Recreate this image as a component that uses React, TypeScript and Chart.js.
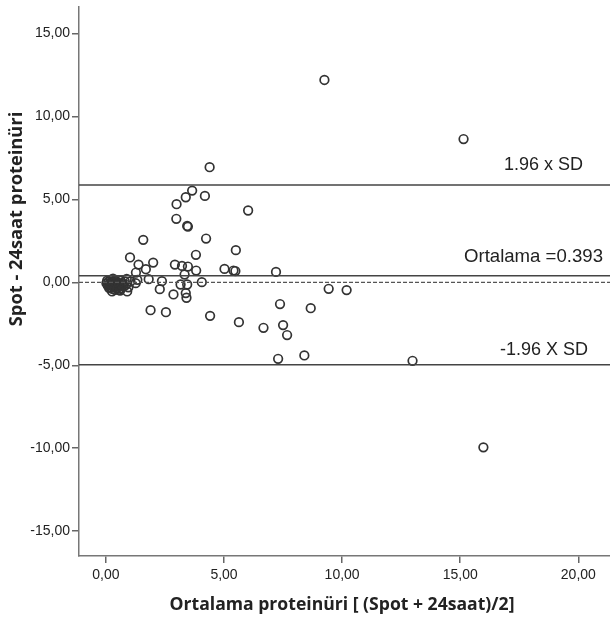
import React, { useEffect, useRef } from "react";
import { Chart, registerables } from "chart.js";

Chart.register(...registerables);

// Bland-Altman data: mean of methods (x) and difference (y)
const meanValues: number[] = [
  9.25, 15.14, 12.98, 15.98, 4.39, 3.65, 3.38, 4.19, 2.99, 6.02,
  2.98, 3.44, 3.47, 4.24, 1.58, 5.5, 3.81, 1.02, 1.38, 2.0,
  2.92, 3.22, 3.47, 3.82, 1.69, 1.27, 5.02, 5.4, 5.48, 7.2,
  3.33, 1.81, 2.37, 4.06, 3.16, 3.44, 2.28, 2.86, 3.38, 3.41,
  0.9, 1.89, 2.54, 4.41, 5.63, 6.67, 7.37, 7.5, 7.67, 7.29,
  8.4, 8.67, 9.43, 10.19,
  0.02, 0.05, 0.08, 0.12, 0.15, 0.18, 0.2, 0.25, 0.28, 0.3,
  0.33, 0.38, 0.4, 0.42, 0.47, 0.5, 0.55, 0.58, 0.62, 0.65,
  0.7, 0.75, 0.8, 0.85, 0.88, 1.04, 1.33, 1.26, 0.95, 0.3,
  0.1, 0.22, 0.35, 0.45, 0.52, 0.6, 0.68, 0.36, 0.26, 0.14,
];
const diffValues: number[] = [
  12.2, 8.64, -4.73, -9.95, 6.94, 5.53, 5.13, 5.21, 4.71, 4.33,
  3.83, 3.4, 3.36, 2.64, 2.56, 1.94, 1.66, 1.5, 1.07, 1.19,
  1.07, 0.99, 0.95, 0.71, 0.79, 0.59, 0.81, 0.71, 0.68, 0.63,
  0.47, 0.19, 0.07, 0.01, -0.13, -0.13, -0.41, -0.73, -0.65, -0.93,
  -0.55, -1.68, -1.8, -2.02, -2.4, -2.74, -1.31, -2.58, -3.18, -4.61,
  -4.41, -1.56, -0.39, -0.47,
  -0.05, 0.1, -0.2, 0.05, -0.1, -0.3, 0.15, -0.05, -0.4, 0.05,
  -0.2, -0.45, 0.1, -0.15, -0.35, 0.0, -0.45, -0.2, 0.1, -0.35,
  -0.05, -0.25, 0.05, -0.15, 0.2, 0.05, 0.15, -0.05, -0.3, 0.22,
  -0.15, -0.1, -0.3, -0.05, -0.25, -0.5, -0.15, 0.0, -0.55, -0.35,
];

const meanDiff = 0.393;
const upperLimit = 5.87;
const lowerLimit = -4.97;
const zeroLine = 0;

const xMin = -1.14;
const xMax = 21.34;
const yMin = -16.5;
const yMax = 16.6;
const tickStep = 5;

const xTitle = "Ortalama proteinüri [ (Spot + 24saat)/2]";
const yTitle = "Spot - 24saat proteinüri";
const upperLabel = "1.96 x SD";
const meanLabel = "Ortalama =0.393";
const lowerLabel = "-1.96 X SD";

const fmt = (v: number) => v.toFixed(2).replace(".", ",");

const textPlugin = {
  id: "textPlugin",
  afterDraw(chart: any) {
    const { ctx, chartArea, scales } = chart;
    const y = scales.y;
    ctx.save();
    ctx.fillStyle = "#222";
    // line labels
    ctx.font = "18px 'Liberation Sans', Arial, sans-serif";
    ctx.textAlign = "right";
    ctx.textBaseline = "middle";
    ctx.fillText(upperLabel, chartArea.right - 27, y.getPixelForValue(upperLimit) - 20);
    ctx.font = "18.6px 'Liberation Sans', Arial, sans-serif";
    ctx.fillText(meanLabel, chartArea.right - 7, y.getPixelForValue(meanDiff) - 19);
    ctx.font = "18px 'Liberation Sans', Arial, sans-serif";
    ctx.fillText(lowerLabel, chartArea.right - 22, y.getPixelForValue(lowerLimit) - 15);
    // axis titles
    ctx.font = "bold 17.6px 'Open Sans', sans-serif";
    ctx.textAlign = "center";
    ctx.fillText(xTitle, 342, 605);
    ctx.translate(17, 219);
    ctx.rotate(-Math.PI / 2);
    ctx.font = "bold 18.3px 'Open Sans', sans-serif";
    ctx.fillText(yTitle, 0, 0);
    ctx.restore();
  },
};

export default function App() {
  const ref = useRef<HTMLCanvasElement | null>(null);
  useEffect(() => {
    if (!ref.current) return;
    const points = meanValues.map((x, i) => ({ x, y: diffValues[i] }));
    const hline = (v: number) => [
      { x: xMin, y: v },
      { x: xMax, y: v },
    ];
    const tickFont = { family: "'Liberation Sans', Arial, sans-serif", size: 14 };
    const chart = new Chart(ref.current, {
      type: "scatter",
      data: {
        datasets: [
          {
            type: "line",
            data: hline(upperLimit),
            borderColor: "#444",
            borderWidth: 1.5,
            pointRadius: 0,
          },
          {
            type: "line",
            data: hline(meanDiff),
            borderColor: "#444",
            borderWidth: 1.5,
            pointRadius: 0,
          },
          {
            type: "line",
            data: hline(lowerLimit),
            borderColor: "#444",
            borderWidth: 1.5,
            pointRadius: 0,
          },
          {
            type: "line",
            data: hline(zeroLine),
            borderColor: "#555",
            borderWidth: 1.3,
            borderDash: [4, 2],
            pointRadius: 0,
          },
          {
            type: "scatter",
            data: points,
            pointStyle: "circle",
            pointRadius: 4.3,
            borderColor: "#333",
            borderWidth: 1.7,
            backgroundColor: "rgba(0,0,0,0)",
          },
        ] as any,
      },
      options: {
        responsive: false,
        animation: false,
        layout: { autoPadding: false, padding: { top: 7, left: 0, right: 0, bottom: 0 } },
        plugins: {
          legend: { display: false },
          tooltip: { enabled: false },
          title: { display: false },
        },
        scales: {
          x: {
            type: "linear",
            min: xMin,
            max: xMax,
            afterFit: (s: any) => {
              s.height = 61;
              s.paddingLeft = 0;
              s.paddingRight = 0;
            },
            ticks: {
              stepSize: tickStep,
              includeBounds: false,
              font: tickFont,
              color: "#222",
              padding: 4,
              maxRotation: 0,
              callback: (v: any) => fmt(Number(v)),
            },
            grid: {
              drawOnChartArea: false,
              drawTicks: true,
              tickLength: 7,
              color: "#666",
              lineWidth: 1.5,
            },
            border: { display: true, color: "#777", width: 1.5 },
          },
          y: {
            type: "linear",
            min: yMin,
            max: yMax,
            afterFit: (s: any) => {
              s.width = 79;
              s.paddingTop = 0;
              s.paddingBottom = 0;
            },
            ticks: {
              stepSize: tickStep,
              includeBounds: false,
              font: tickFont,
              color: "#222",
              padding: 2,
              callback: (v: any) => fmt(Number(v)),
            },
            grid: {
              drawOnChartArea: false,
              drawTicks: true,
              tickLength: 7,
              color: "#666",
              lineWidth: 1.5,
            },
            border: { display: true, color: "#777", width: 1.5 },
          },
        },
      },
      plugins: [textPlugin],
    });
    return () => chart.destroy();
  }, []);
  return (
    <div style={{ position: "absolute", left: 0, top: 0, width: 610, height: 617, background: "#fff" }}>
      <canvas ref={ref} width={610} height={617} style={{ width: 610, height: 617, display: "block" }} />
    </div>
  );
}
